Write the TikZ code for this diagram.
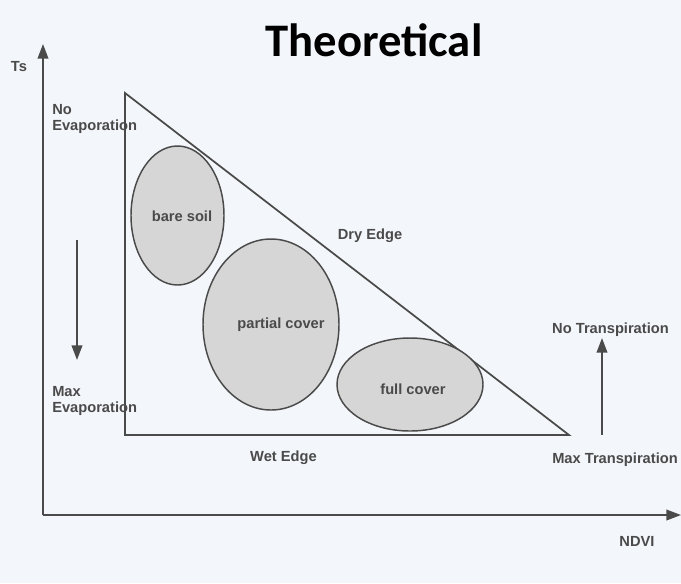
\documentclass[tikz,border=0pt]{standalone}
\usepackage{fontspec}
\setmainfont{Liberation Sans}
\newfontfamily\titlefont{Carlito}
\usetikzlibrary{arrows.meta,shapes.geometric}
\definecolor{bg}{HTML}{F3F6FA}
\definecolor{ink}{HTML}{4A4A4A}
\definecolor{blobfill}{HTML}{D6D6D6}
\begin{document}
\begin{tikzpicture}[x=0.75pt,y=-0.75pt,
  lbl/.style={font=\fontsize{11}{12}\selectfont\bfseries, text=ink, inner sep=0pt},
  lbll/.style={lbl, align=left, anchor=west},
  edge/.style={draw=ink, line width=1.3pt},
  axis/.style={draw=ink, line width=1.3pt, -{Triangle[length=11pt,width=8pt]}},
  blob/.style={ellipse, draw=ink, line width=1.1pt, fill=blobfill, inner sep=0pt}
]
\fill[bg] (0,0) rectangle (681,583);
\useasboundingbox (0,0) rectangle (681,583);

% title
\node[font=\titlefont\fontsize{35}{38}\selectfont\bfseries, text=black, anchor=base, inner sep=0pt] (title) at (374,56) {Theoretical};

% axes
\coordinate (origin) at (43,515);
\coordinate (ytip) at (43,44);
\coordinate (xtip) at (681,515);
\draw[axis] (origin) -- (ytip);
\draw[axis] (origin) -- (xtip);
\node[lbl] (ts) at (19,67) {Ts};
\node[lbl] (ndvi) at (637,541) {NDVI};

% triangle
\coordinate (tl) at (125,93);
\coordinate (bl) at (125,435);
\coordinate (br) at (569,435);
\draw[edge, line join=miter] (tl) -- (bl) -- (br) -- cycle;

% ellipses
\node[blob, minimum width=69.75pt, minimum height=104.25pt] (bare) at (177.5,215.5) {};
\node[blob, minimum width=102pt, minimum height=128.25pt] (partial) at (271,324.5) {};
\node[blob, minimum width=109.5pt, minimum height=69.75pt] (full) at (410,384.5) {};
\node[lbl] (baret) at (182,216) {bare soil};
\node[lbl] (partialt) at (281,325) {partial cover};
\node[lbl] (fullt) at (413,389) {full cover};

% edge labels
\node[lbl] (dry) at (370,236) {Dry Edge};
\node[lbl] (wet) at (283.5,458) {Wet Edge};

% evaporation
\node[lbll] (noevap) at (52,119) {No\\Evaporation};
\node[lbll] (maxevap) at (52,401) {Max\\Evaporation};
\coordinate (evtop) at (77,240);
\coordinate (evbot) at (77,360);
\draw[axis] (evtop) -- (evbot);

% transpiration
\node[lbl] (notr) at (610.5,330) {No Transpiration};
\node[lbl] (maxtr) at (615,460) {Max Transpiration};
\coordinate (trbot) at (602,435);
\coordinate (trtop) at (602,338);
\draw[axis] (trbot) -- (trtop);
\end{tikzpicture}
\end{document}
